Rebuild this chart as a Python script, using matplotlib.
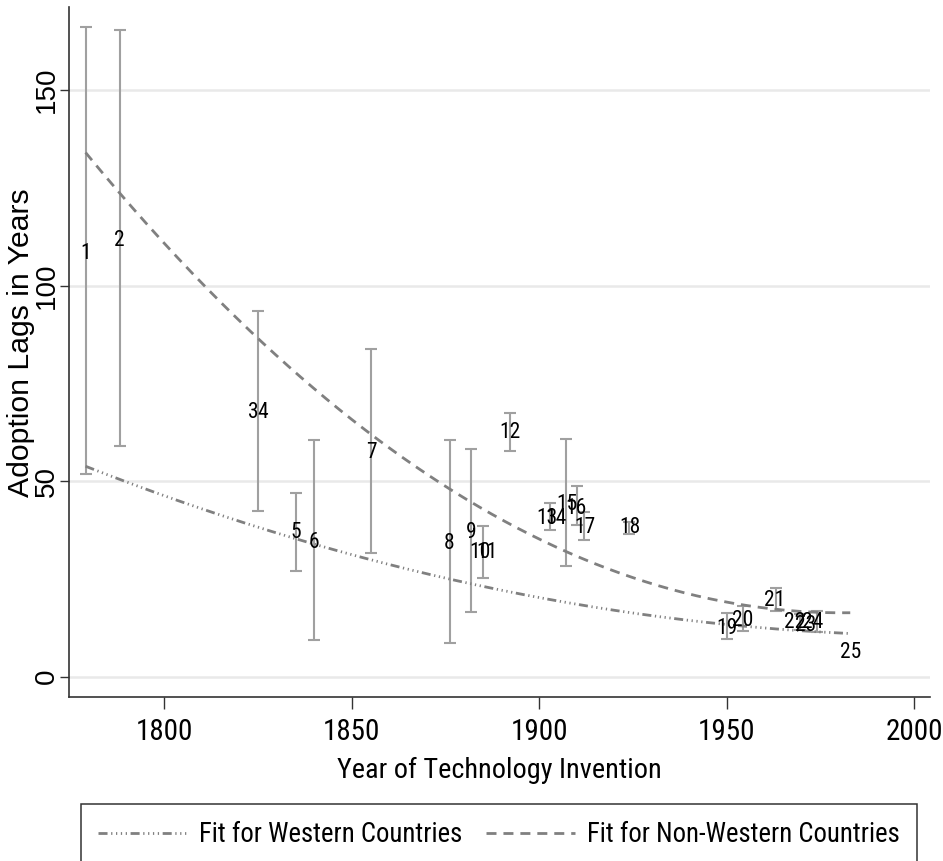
import numpy as np
import matplotlib
matplotlib.use("Agg")
import matplotlib.pyplot as plt
from matplotlib import font_manager
from matplotlib.font_manager import FontProperties
from matplotlib.lines import Line2D

plt.rcParams["lines.scale_dashes"] = False
REGULAR = "Liberation Sans"


def narrow_font():
    """Find a condensed sans face; fall back to Liberation Sans."""
    fonts = font_manager.fontManager.ttflist
    names = {f.name for f in fonts}
    for name in ("Liberation Sans Narrow", "Roboto Condensed", "Open Sans Condensed",
                 "Noto Sans Condensed", "DejaVu Sans Condensed", "Arial Narrow"):
        if name in names:
            return {"family": name, "stretch": "normal"}
    for f in fonts:
        st = f.stretch
        narrow = st in ("condensed", "semi-condensed", "extra-condensed", "ultra-condensed") or (
            isinstance(st, int) and st < 500)
        if narrow and f.style == "normal" and f.weight in (400, "normal", "regular") \
                and "Mono" not in f.name and "Serif" not in f.name:
            return {"family": f.name, "stretch": st}
    return {"family": REGULAR, "stretch": "normal"}


NARROW = narrow_font()

# technology number, invention year and mean adoption lag
tech_ids = list(range(1, 26))
tech_years = [1779.0, 1788.1, 1823.6, 1826.3, 1835.2, 1840.0, 1855.2, 1876.1, 1882.0, 1884.2,
              1886.0, 1892.3, 1902.1, 1904.6, 1907.3, 1909.9, 1912.2, 1924.3, 1950.2, 1954.2,
              1962.7, 1968.2, 1971.1, 1973.1, 1983.0]
tech_lags = [108.3, 111.6, 67.5, 67.5, 36.8, 34.2, 57.3, 34.0, 36.8, 31.8,
             31.8, 62.4, 40.4, 40.4, 44.1, 43.1, 38.1, 38.1, 12.2, 14.3,
             19.6, 13.9, 13.1, 13.9, 6.2]

# confidence ranges drawn as capped bars
band_years = [1779.0, 1788.1, 1825.0, 1835.2, 1840.0, 1855.1, 1876.1, 1881.9, 1885.0, 1892.1,
              1902.9, 1907.1, 1910.0, 1912.0, 1924.1, 1950.0, 1954.5, 1963.3, 1969.5, 1974.1]
band_lo = [51.9, 58.9, 42.3, 27.1, 9.5, 31.7, 8.7, 16.5, 25.2, 57.6,
           37.4, 28.2, 38.9, 35.0, 36.6, 9.6, 11.8, 16.9, 12.0, 11.5]
band_hi = [166.2, 165.4, 93.6, 47.0, 60.4, 83.7, 60.4, 58.1, 38.5, 67.5,
           44.5, 60.9, 48.7, 42.1, 39.6, 16.2, 18.2, 22.7, 16.0, 16.7]

# values along the two quadratic fits
west_fit_years = [1779.0, 1835.2, 1840.0, 1868.3, 1882.0, 1937.6, 1983.0]
west_fit_lags = [54.0, 35.5, 33.1, 26.7, 23.9, 15.1, 10.8]
nonwest_fit_years = [1779.0, 1788.1, 1825.0, 1855.1, 1876.1, 1907.1, 1934.1, 1959.9, 1983.0]
nonwest_fit_lags = [133.8, 124.0, 86.0, 62.6, 48.1, 31.4, 22.9, 17.7, 16.3]

x_ticks = [1800, 1850, 1900, 1950, 2000]
y_ticks = [0, 50, 100, 150]

AXIS = "#333333"
BAR = "#a0a0a0"
FIT = "#808080"
GRID = "#e9e9e9"
WEST_DASH = (6.5, 2.6, 0.9, 2.6, 0.9, 2.6, 0.9, 2.6, 0.9, 2.6)
NONWEST_DASH = (7.2, 5.0)


def narrow(size):
    return FontProperties(family=NARROW["family"], stretch=NARROW["stretch"], size=size)


fig = plt.figure(figsize=(9.43, 8.61), dpi=100)
ax = fig.add_axes([0.0735, 0.1901, 0.9124, 0.8021])
ax.set_xlim(1774.66, 2004.2)
ax.set_ylim(-5.27, 171.3)

for s in ("top", "right"):
    ax.spines[s].set_visible(False)
for s in ("left", "bottom"):
    ax.spines[s].set_color(AXIS)
    ax.spines[s].set_linewidth(1.2)

ax.set_yticks(y_ticks)
ax.set_xticks(x_ticks)
ax.yaxis.grid(True, color=GRID, linewidth=1.8, zorder=0)
ax.set_axisbelow(True)
ax.tick_params(axis="y", length=6.5, width=1, color=AXIS, pad=0.5, labelrotation=90)
ax.tick_params(axis="x", length=8.5, width=1, color=AXIS, pad=6.5)
for lab in ax.get_yticklabels():
    lab.set_family(REGULAR)
    lab.set_fontsize(20)
    lab.set_va("center")
for lab in ax.get_xticklabels():
    lab.set_fontproperties(narrow(21))

# capped bars
lo = np.array(band_lo)
hi = np.array(band_hi)
mid = (lo + hi) / 2
ax.errorbar(band_years, mid, yerr=[mid - lo, hi - mid], fmt="none", ecolor=BAR,
            elinewidth=1.5, capsize=4.3, capthick=1.5, zorder=2)

# quadratic fits
span = np.linspace(min(tech_years), max(tech_years), 300)
w_coef = np.polyfit(np.array(west_fit_years) - 1900, west_fit_lags, 2)
n_coef = np.polyfit(np.array(nonwest_fit_years) - 1900, nonwest_fit_lags, 2)
ax.plot(span, np.polyval(w_coef, span - 1900), color=FIT, lw=2.0,
        dashes=WEST_DASH, zorder=3)
ax.plot(span, np.polyval(n_coef, span - 1900), color=FIT, lw=2.0,
        dashes=NONWEST_DASH, zorder=3)

for num, yr, lag in zip(tech_ids, tech_years, tech_lags):
    ax.text(yr, lag, str(num), ha="center", va="center", fontproperties=narrow(15.5),
            color="black", zorder=4)

ax.set_xlabel("Year of Technology Invention", fontproperties=narrow(20.3), labelpad=8)
ax.set_ylabel("Adoption Lags in Years", family=REGULAR, fontsize=21.7)
ax.yaxis.set_label_coords(-0.040, 0.513)

handles = [
    Line2D([], [], color=FIT, lw=2.0, dashes=WEST_DASH),
    Line2D([], [], color=FIT, lw=2.0, dashes=NONWEST_DASH),
]
leg = fig.legend(handles, ["Fit for Western Countries", "Fit for Non-Western Countries"],
                 loc="upper center", bbox_to_anchor=(0.529, 0.0667), ncol=2,
                 frameon=True, fancybox=False, edgecolor="black", prop=narrow(19.3),
                 handlelength=3.3, handletextpad=0.45, columnspacing=0.9,
                 borderpad=0.65, borderaxespad=0)
leg.get_frame().set_linewidth(1.1)

fig.savefig("out.png", dpi=100)
